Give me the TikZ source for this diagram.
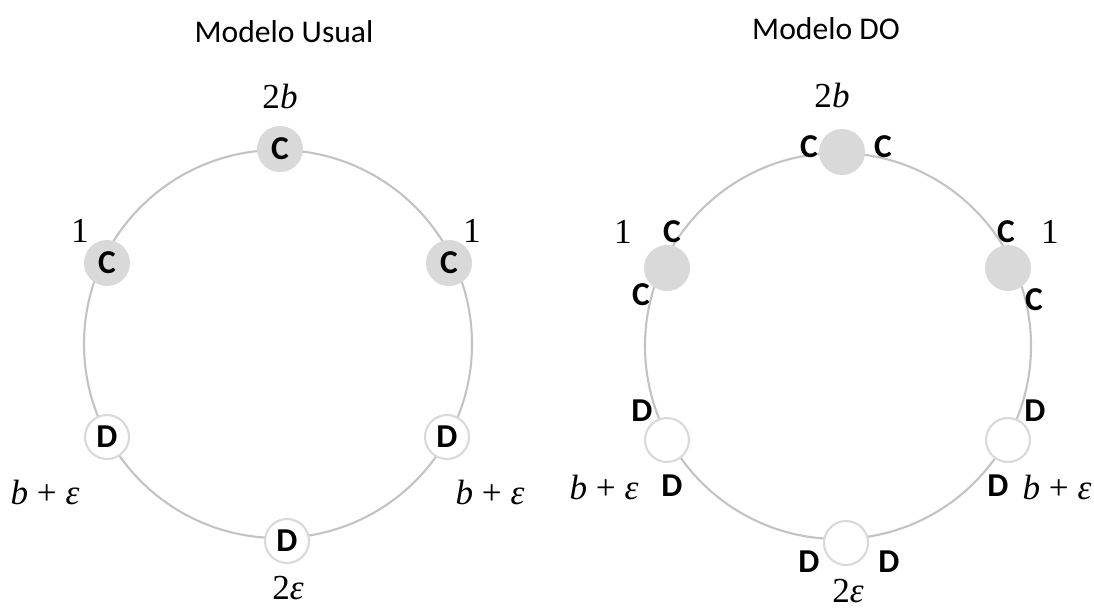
\documentclass[tikz,border=0pt]{standalone}
\usepackage{fontspec}
\setmainfont{Carlito}
\newfontfamily\payfont{Liberation Serif}
\usepackage{xcolor}
\definecolor{ringgray}{HTML}{C3C3C3}
\definecolor{coopfill}{HTML}{D9D9D9}
\definecolor{defrim}{HTML}{D9D9D9}

\begin{document}
\begin{tikzpicture}[x=0.02cm, y=-0.02cm,
ring/.style={draw=ringgray, line width=1.2pt},
coop/.style={circle, fill=coopfill, minimum size=0.92cm, inner sep=0pt, font=\bfseries\fontsize{19}{19}\selectfont},
defect/.style={circle, draw=defrim, line width=1.2pt, fill=white, minimum size=0.88cm, inner sep=0pt, font=\bfseries\fontsize{19}{19}\selectfont},
tag/.style={inner sep=0pt, font=\bfseries\fontsize{19}{19}\selectfont},
pay/.style={inner sep=0pt, font=\payfont\fontsize{20}{20}\selectfont},
heading/.style={inner sep=0pt, font=\fontsize{18}{18}\selectfont}
]
\useasboundingbox (0,0) rectangle (1094,609);

% usual model
\node[heading] (t1) at (284,32) {Modelo Usual};
\coordinate (o1) at (278,344);
\draw[ring] (o1) circle (194);
\node[coop] (u1) at (280,149) {C};
\node[coop] (u2) at (449,263) {C};
\node[defect] (u3) at (447,437) {D};
\node[defect] (u4) at (287,541) {D};
\node[defect] (u5) at (107,437) {D};
\node[coop] (u6) at (107,263) {C};
\node[pay] at (280,96) {2\textit{b}};
\node[pay] at (472,231) {1};
\node[pay] at (490,492) {\textit{b} + \textit{ε}};
\node[pay] at (288,588) {2\textit{ε}};
\node[pay] at (45,492) {\textit{b} + \textit{ε}};
\node[pay] at (80,231) {1};

% DO model
\node[heading] (t2) at (826,29) {Modelo DO};
\coordinate (o2) at (838,346);
\draw[ring] (o2) circle (193);
\node[coop] (d1) at (842,152) {};
\node[coop] (d2) at (1008,268) {};
\node[defect] (d3) at (1008,440) {};
\node[defect] (d4) at (846,543) {};
\node[defect] (d5) at (667,440) {};
\node[coop] (d6) at (667,268) {};
% strategy seen by each neighbour
\node[tag] at (809,147) {C};
\node[tag] at (883,147) {C};
\node[tag] at (1006,232) {C};
\node[tag] at (1034,300) {C};
\node[tag] at (1035,411) {D};
\node[tag] at (998,486) {D};
\node[tag] at (889,562) {D};
\node[tag] at (809,562) {D};
\node[tag] at (672,486) {D};
\node[tag] at (642,411) {D};
\node[tag] at (641,295) {C};
\node[tag] at (672,232) {C};
\node[pay] at (832,95) {2\textit{b}};
\node[pay] at (1050,232) {1};
\node[pay] at (1057,487) {\textit{b} + \textit{ε}};
\node[pay] at (848,591) {2\textit{ε}};
\node[pay] at (604,487) {\textit{b} + \textit{ε}};
\node[pay] at (623,232) {1};
\end{tikzpicture}
\end{document}
